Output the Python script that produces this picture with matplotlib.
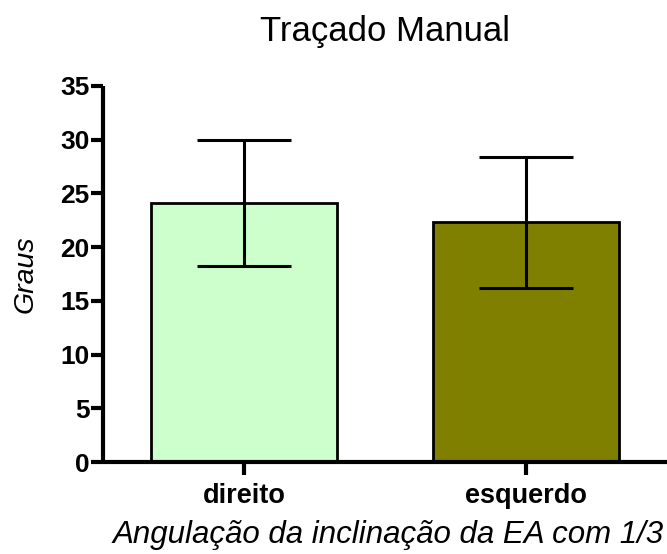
import numpy as np
import matplotlib
matplotlib.use("Agg")
import matplotlib.pyplot as plt

# Mean angle (degrees) and standard deviation per side
lados = ["direito", "esquerdo"]
medias = [24.1, 22.3]
desvios = [5.9, 6.1]
cores = ["#CCFFCC", "#808000"]

plt.rcParams['font.family'] = ['Liberation Sans', 'DejaVu Sans']

fig = plt.figure(figsize=(6.67, 5.54), dpi=100)
ax = fig.add_axes([0.155, 0.166, 0.845, 0.679])

x = np.arange(len(lados))
ax.bar(x, medias, width=0.66, color=cores, edgecolor="black", linewidth=2.0, zorder=2)
ax.errorbar(x, medias, yerr=desvios, fmt="none", ecolor="black", elinewidth=2.2,
            capsize=34, capthick=2.2, zorder=3)

ax.set_xlim(-0.5, 1.5)
ax.set_ylim(0, 35)
ax.set_yticks(np.arange(0, 36, 5))
ax.set_xticks(x)
ax.set_xticklabels(lados)

for s in ["top", "right"]:
    ax.spines[s].set_visible(False)
for s in ["left", "bottom"]:
    ax.spines[s].set_linewidth(3)
    ax.spines[s].set_capstyle("butt")

ax.tick_params(axis="y", length=9, width=3, pad=1, labelsize=19)
ax.tick_params(axis="x", length=9, width=3, pad=6, labelsize=19.5)
for lab in ax.get_xticklabels() + ax.get_yticklabels():
    lab.set_fontweight("bold")

ax.set_title("Traçado Manual", fontsize=25, pad=32)
ax.set_ylabel("Graus", fontsize=20.5, style="italic")
ax.yaxis.set_label_coords(-0.115, 0.5)
ax.set_xlabel("Angulação da inclinação da EA com 1/3", fontsize=22.5, style="italic",
              loc="left", labelpad=8)
ax.xaxis.label.set_x(0.016)

fig.savefig("out.png", dpi=100)
